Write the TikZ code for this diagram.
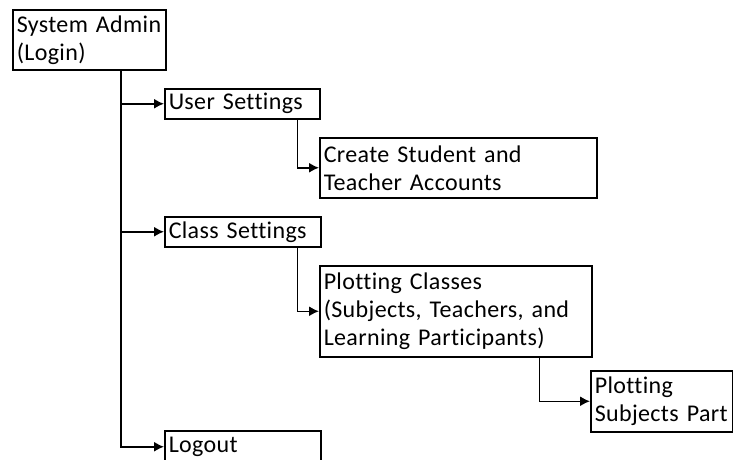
\documentclass[tikz,border=0pt]{standalone}
\usepackage{fontspec}
\setmainfont{Carlito}[Ligatures=NoCommon, LetterSpace=1.5, WordSpace=0.8]
\usetikzlibrary{arrows.meta}

\tikzset{
  menu-box/.style={draw, line width=1.5pt, anchor=north west, align=left, inner xsep=4pt, inner ysep=0pt, font=\fontsize{24}{28}\selectfont},
  menu-link/.style={line width=1.5pt, -{Latex[length=10pt, width=10pt]}}
}

\begin{document}
\begin{tikzpicture}[x=1pt, y=-1pt]
      \useasboundingbox (0,0) rectangle (733,459);
      \clip (0,0) rectangle (733,459);

      \node (menu-admin)  at (12,9)    [menu-box, text width=145pt, minimum height=60pt] {System~Admin\\(Login)};
      \node (menu-user)   at (164,88)  [menu-box, text width=147pt, minimum height=30pt] {User~Settings};
      \node (menu-create) at (319,137) [menu-box, text width=269pt, minimum height=60pt] {Create~Student~and\\Teacher~Accounts};
      \node (menu-class)  at (164,216) [menu-box, text width=148pt, minimum height=30pt] {Class~Settings};
      \node (menu-plot)   at (319,265) [menu-box, text width=264pt, minimum height=91pt] {Plotting~Classes\\(Subjects,~Teachers,~and\\Learning~Participants)};
      \node (menu-part)   at (590,370) [menu-box, text width=134pt, minimum height=61pt] {Plotting\\Subjects~Part};
      \node (menu-logout) at (164,430) [menu-box, text width=148pt, minimum height=32pt] {Logout};

      \coordinate (trunk) at (121,69);
      \draw[menu-link] (trunk) |- (menu-user.west);
      \draw[menu-link] (trunk) |- (menu-class.west);
      \draw[menu-link] (trunk) |- (menu-logout.west);

      \draw[menu-link] ([xshift=-23pt]menu-user.south east)  |- (menu-create.west);
      \draw[menu-link] ([xshift=-24pt]menu-class.south east) |- (menu-plot.west);
      \draw[menu-link] ([xshift=-53pt]menu-plot.south east)  |- (menu-part.west);
    \end{tikzpicture}
\end{document}
